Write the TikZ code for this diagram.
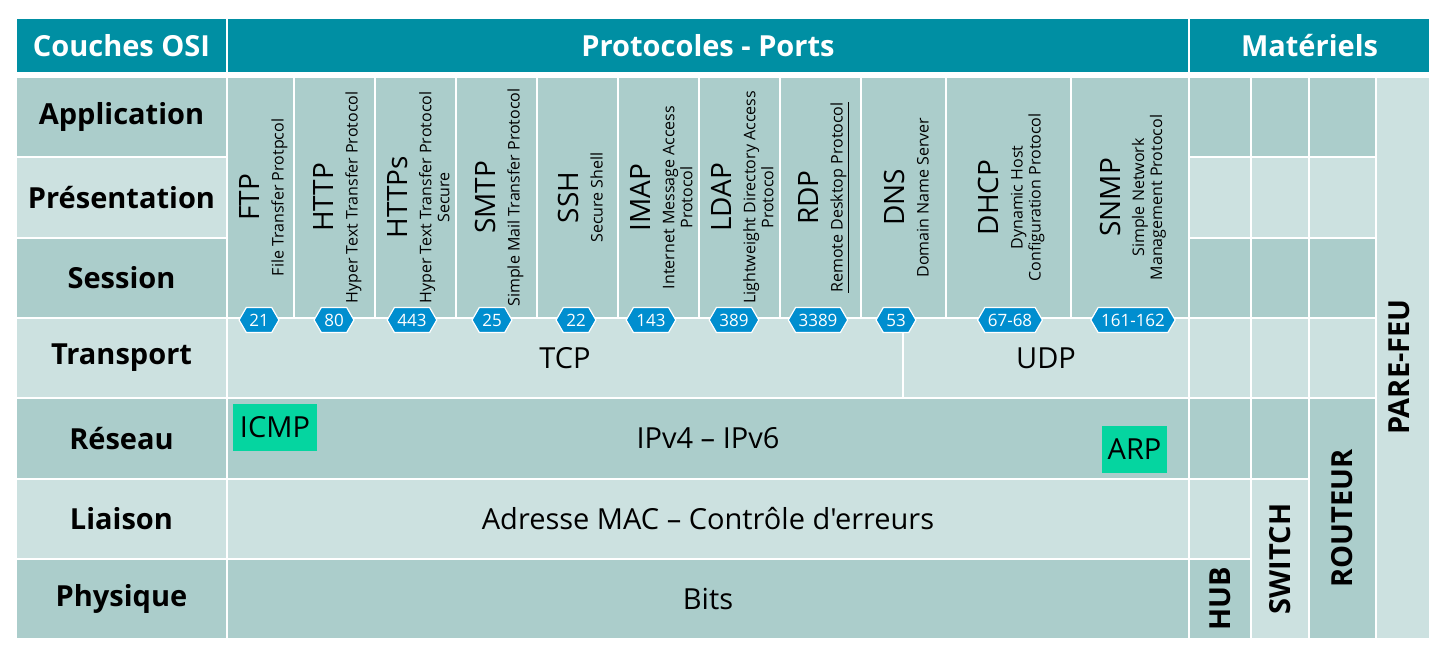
\documentclass[tikz,border=0pt]{standalone}
\usepackage{fontspec}
\setmainfont{Open Sans}[Ligatures=TeXOff]
\usetikzlibrary{fit,shapes.symbols}
\definecolor{Head}{HTML}{008FA3}
\definecolor{Dark}{HTML}{ABCDCB}
\definecolor{Light}{HTML}{CCE1E0}
\definecolor{Port}{HTML}{008ECF}
\definecolor{Flag}{HTML}{05D5A0}
\colorlet{row1}{Dark}
\colorlet{row2}{Light}
\colorlet{row3}{Dark}
\colorlet{row4}{Light}
\colorlet{row5}{Dark}
\colorlet{row6}{Light}
\colorlet{row7}{Dark}
\begin{document}
\begin{tikzpicture}[
  x=1pt, y=-1pt,
  every node/.style={inner sep=0pt},
  cellbox/.style={draw=white,line width=2pt,inner sep=0pt},
  head/.style={text=white,font=\fontsize{29}{32}\selectfont\bfseries},
  layer/.style={font=\fontsize{29}{32}\selectfont\bfseries},
  band/.style={font=\fontsize{29}{32}\selectfont},
  proto/.style={rotate=90,align=center,font=\fontsize{16}{18}\selectfont},
  port/.style={signal,signal to=east and west,signal pointer angle=120,fill=Port,draw=white,line width=1.2pt,
    text=white,font=\fontsize{17}{19}\selectfont,inner xsep=3pt,inner ysep=0pt,minimum height=25pt},
  flag/.style={fill=Flag,font=\fontsize{29}{32}\selectfont},
  device/.style={rotate=90,font=\fontsize{29}{32}\selectfont\bfseries}
]
\useasboundingbox (0,0) rectangle (1443,655);

% header
\node[cellbox,fill=Head,fit={(16,18) (227,73)}] (osi) {};
\node[cellbox,fill=Head,fit={(227,18) (1189,73)}] (protos) {};
\node[cellbox,fill=Head,fit={(1189,18) (1430,73)}] (hw) {};
\node[head] (osi-txt) at (osi.center) {Couches OSI};
\node[head] (protos-txt) at (protos.center) {Protocoles - Ports};
\node[head] (hw-txt) at (hw.center) {Matériels};

% OSI layers
\foreach \lab [count=\i] in {Application,Présentation,Session,Transport,Réseau,Liaison,Physique}
{
  \pgfmathsetmacro\ya{77+80.3*(\i-1)}
  \pgfmathsetmacro\yb{77+80.3*\i}
  \node[cellbox,fill=row\i,fit={(16,\ya) (227,\yb)}] (lay-\i) {};
  \node[layer] (lay-\i-txt) at (lay-\i.center) {\lab};
}

% application protocols
\foreach \xa/\xb/\nm/\abbr/\full in {
  227/294/ftp/FTP/{File Transfer Protpcol},
  294/375/http/HTTP/{Hyper Text Transfer Protocol},
  375/456/https/HTTPs/{Hyper Text Transfer Protocol\\Secure},
  456/537/smtp/SMTP/{Simple Mail Transfer Protocol},
  537/618/ssh/SSH/{Secure Shell},
  618/699/imap/IMAP/{Internet Message Access\\Protocol},
  699/780/ldap/LDAP/{Lightweight Directory Access\\Protocol},
  780/861/rdp/RDP/{\underline{Remote Desktop Protocol}},
  861/946/dns/DNS/{Domain Name Server},
  946/1071/dhcp/DHCP/{Dynamic Host\\Configuration Protocol},
  1071/1189/snmp/SNMP/{Simple Network\\Management Protocol}}
{
  \node[cellbox,fill=Dark,fit={(\xa,77) (\xb,317.9)}] (\nm) {};
  \node[proto] (\nm-txt) at ([xshift=3pt]\nm.center) {{\fontsize{28}{30}\selectfont\abbr}\\[6pt]\full};
}

% lower layers
\node[cellbox,fill=Light,fit={(227,317.9) (903,398.2)}] (tcp) {};
\node[cellbox,fill=Light,fit={(903,317.9) (1189,398.2)}] (udp) {};
\node[cellbox,fill=Dark,fit={(227,398.2) (1189,478.5)}] (ip) {};
\node[cellbox,fill=Light,fit={(227,478.5) (1189,558.8)}] (mac) {};
\node[cellbox,fill=Dark,fit={(227,558.8) (1189,639.1)}] (bits) {};
\node[band] (tcp-txt) at (tcp.center) {TCP};
\node[band] (udp-txt) at (udp.center) {UDP};
\node[band] (ip-txt) at (ip.center) {IPv4 – IPv6};
\node[band] (mac-txt) at (mac.center) {Adresse MAC – Contrôle d'erreurs};
\node[band] (bits-txt) at (bits.center) {Bits};
\node[flag,minimum width=84pt,minimum height=47pt] (icmp) at (275,427.5) {ICMP};
\node[flag,minimum width=65pt,minimum height=47pt] (arp) at (1134.5,449.5) {ARP};

% ports
\foreach \px/\pn in {259/21,334/80,412/443,492/25,576/22,651/143,734/389,818/3389,896/53,1010/67-68,1133/161-162}
  \node[port] (port-\pn) at (\px,320) {\pn};

% hardware
\foreach \xa/\xb/\nm/\n in {1189/1251/hub/6,1251/1309/switch/5,1309/1376/router/4}
  \foreach \i in {1,...,\n}
  {
    \pgfmathsetmacro\ya{77+80.3*(\i-1)}
    \pgfmathsetmacro\yb{77+80.3*\i}
    \node[cellbox,fill=row\i,fit={(\xa,\ya) (\xb,\yb)}] (\nm-\i) {};
  }
\node[cellbox,fill=Dark,fit={(1189,558.8) (1251,639.1)}] (hub) {};
\node[cellbox,fill=Light,fit={(1251,478.5) (1309,639.1)}] (switch) {};
\node[cellbox,fill=Dark,fit={(1309,398.2) (1376,639.1)}] (router) {};
\node[cellbox,fill=Light,fit={(1376,77) (1430,639.1)}] (firewall) {};
\node[device] (hub-lab) at (hub.center) {HUB};
\node[device] (switch-lab) at (switch.center) {SWITCH};
\node[device] (router-lab) at (router.center) {ROUTEUR};
\node[device] (firewall-lab) at ([yshift=-9pt,xshift=-4pt]firewall.center) {PARE-FEU};
\end{tikzpicture}
\end{document}
